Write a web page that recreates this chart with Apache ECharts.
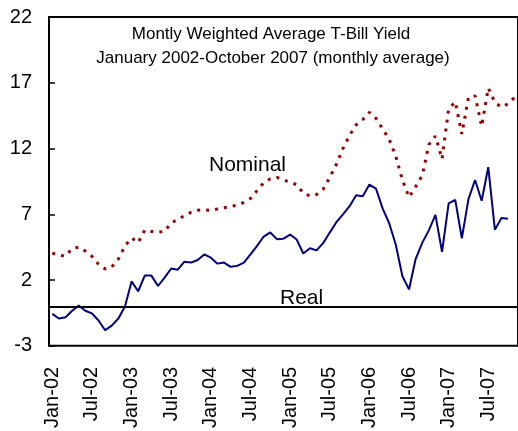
<!DOCTYPE html>
<html>
<head>
<meta charset="utf-8">
<script src="https://cdn.jsdelivr.net/npm/echarts@6/dist/echarts.min.js"></script>
<style>
  html, body { margin: 0; padding: 0; background: #fff; }
  #chart { width: 518px; height: 431px; }
</style>
</head>
<body>
<div id="chart"></div>
<script>
// months on the axis, Jan 2002 - Nov 2007 (the plot runs past the crop)
const months = [
  'Jan-02','Feb-02','Mar-02','Apr-02','May-02','Jun-02','Jul-02','Aug-02','Sep-02','Oct-02','Nov-02','Dec-02',
  'Jan-03','Feb-03','Mar-03','Apr-03','May-03','Jun-03','Jul-03','Aug-03','Sep-03','Oct-03','Nov-03','Dec-03',
  'Jan-04','Feb-04','Mar-04','Apr-04','May-04','Jun-04','Jul-04','Aug-04','Sep-04','Oct-04','Nov-04','Dec-04',
  'Jan-05','Feb-05','Mar-05','Apr-05','May-05','Jun-05','Jul-05','Aug-05','Sep-05','Oct-05','Nov-05','Dec-05',
  'Jan-06','Feb-06','Mar-06','Apr-06','May-06','Jun-06','Jul-06','Aug-06','Sep-06','Oct-06','Nov-06','Dec-06',
  'Jan-07','Feb-07','Mar-07','Apr-07','May-07','Jun-07','Jul-07','Aug-07','Sep-07','Oct-07','Nov-07'
];

// nominal yield (dotted red)
const nominal = [
  4.05, 3.9, 3.82, 4.4, 4.5, 4.2, 3.8, 3.2, 2.85, 3.0, 3.6, 4.6,
  5.2, 4.85, 5.8, 5.7, 5.65, 5.7, 6.35, 6.6, 6.9, 7.15, 7.3, 7.35,
  7.3, 7.4, 7.5, 7.6, 7.7, 7.9, 8.2, 8.8, 9.4, 9.7, 9.8, 9.6,
  9.45, 9.25, 8.6, 8.4, 8.5, 8.9, 9.8, 10.8, 12.0, 13.0, 13.8, 14.2,
  14.75, 14.3, 13.5, 12.7, 11.4, 9.6, 8.3, 9.1, 9.95, 12.3, 12.95, 11.2,
  15.0, 15.55, 13.1, 15.9, 16.0, 13.7, 16.6, 15.5, 15.15, 15.4, 15.9
];

// real yield (solid blue)
const real = [
  -0.57, -0.92, -0.83, -0.33, 0.06, -0.33, -0.53, -1.07, -1.81, -1.46, -0.92, -0.01,
  1.90, 1.15, 2.34, 2.34, 1.55, 2.19, 2.88, 2.79, 3.40, 3.33, 3.53, 3.95,
  3.70, 3.25, 3.33, 3.01, 3.08, 3.33, 3.95, 4.60, 5.31, 5.62, 5.11, 5.15,
  5.46, 5.08, 4.02, 4.42, 4.26, 4.81, 5.61, 6.40, 7.00, 7.62, 8.45, 8.38,
  9.26, 8.95, 7.45, 6.32, 4.69, 2.29, 1.29, 3.60, 4.83, 5.78, 6.96, 4.14,
  7.83, 8.10, 5.18, 8.15, 9.61, 8.03, 10.58, 5.83, 6.72, 6.67
];

const yMin = -3, yMax = 22, yStep = 5;

const font = 'Liberation Sans, Arial, sans-serif';
let chart = echarts.init(document.getElementById('chart'));
let option = {
  animation: false,
  backgroundColor: '#fff',
  grid: {
    left: 49,
    top: 17,
    width: 473,
    height: 336,
    show: true,
    borderColor: '#000',
    borderWidth: 2,
    backgroundColor: 'transparent'
  },
  xAxis: {
    type: 'category',
    data: months,
    boundaryGap: true,
    axisLine: { show: true, lineStyle: { color: '#000', width: 2 } },
    axisTick: { show: false },
    splitLine: { show: false },
    axisLabel: {
      interval: 5,
      rotate: 90,
      margin: 21,
      color: '#000',
      fontSize: 20,
      fontFamily: font
    }
  },
  yAxis: {
    type: 'value',
    min: yMin,
    max: yMax,
    interval: yStep,
    axisLine: { show: true, lineStyle: { color: '#000', width: 2 } },
    axisTick: { show: true, inside: true, length: 6, lineStyle: { color: '#000', width: 1.5 } },
    splitLine: { show: false },
    axisLabel: {
      margin: 17,
      color: '#000',
      fontSize: 20,
      fontFamily: font
    }
  },
  graphic: [
    {
      type: 'text', x: 271, y: 34,
      style: { text: 'Montly Weighted Average T-Bill Yield', align: 'center', verticalAlign: 'middle', fill: '#000', fontSize: 17, fontFamily: font }
    },
    {
      type: 'text', x: 273, y: 58,
      style: { text: 'January 2002-October 2007 (monthly average)', align: 'center', verticalAlign: 'middle', fill: '#000', fontSize: 17, fontFamily: font }
    },
    {
      type: 'text', x: 209, y: 165,
      style: { text: 'Nominal', verticalAlign: 'middle', fill: '#000', fontSize: 21, fontFamily: font }
    },
    {
      type: 'text', x: 280, y: 298,
      style: { text: 'Real', verticalAlign: 'middle', fill: '#000', fontSize: 21, fontFamily: font }
    }
  ],
  series: [
    {
      name: 'Nominal',
      type: 'line',
      data: nominal,
      symbol: 'none',
      lineStyle: { color: '#990000', width: 3, type: [3, 6], cap: 'butt' },
      z: 3
    },
    {
      name: 'Real',
      type: 'line',
      data: real,
      symbol: 'none',
      lineStyle: { color: '#000080', width: 2 },
      z: 4,
      markLine: {
        silent: true,
        symbol: 'none',
        label: { show: false },
        lineStyle: { color: '#000', width: 1.5, type: 'solid' },
        data: [{ yAxis: 0 }]
      }
    }
  ]
};
chart.setOption(option);
window.addEventListener('resize', function () {
  chart.resize();
});
</script>
</body>
</html>
